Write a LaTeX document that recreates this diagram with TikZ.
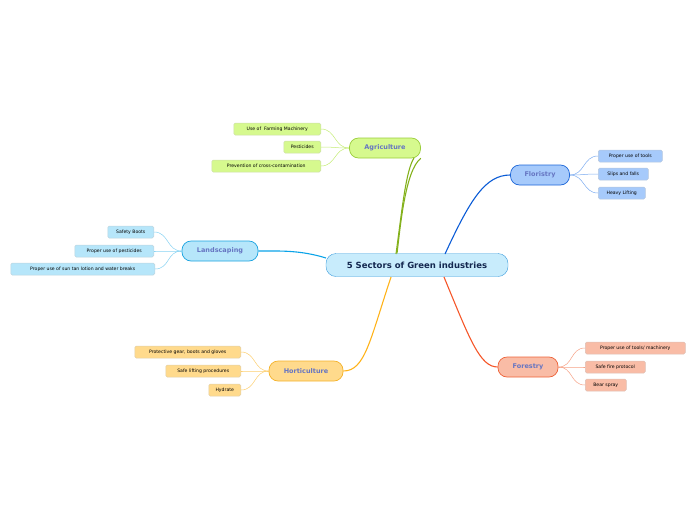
\documentclass[tikz,border=0pt]{standalone}
\usepackage{fontspec}
\setmainfont{DejaVu Sans}
\begin{document}
\begin{tikzpicture}[x=1pt,y=-1pt,
 leaf/.style={draw=#1!80!black!60, fill=#1, rounded corners=1.5pt, font=\fontsize{4.6}{5}\selectfont, inner xsep=3pt, minimum height=12pt, line width=0.5pt},
 main/.style={draw=#1, rounded corners=9pt, font=\fontsize{6.5}{7}\bfseries\selectfont, text=black!75!green!40!blue!60, minimum height=20pt, line width=0.7pt},
 br/.style={draw=#1, line width=1.1pt},
 tw/.style={draw=#1, line width=0.5pt}]
\useasboundingbox (0,0) rectangle (696,520);
\definecolor{agF}{HTML}{D6F98E}\definecolor{agB}{HTML}{9ACD3A}\definecolor{agL}{HTML}{84B11C}
\definecolor{flF}{HTML}{A6CAFB}\definecolor{flB}{HTML}{1C66D8}\definecolor{flL}{HTML}{0B5CD6}
\definecolor{laF}{HTML}{B6E6FA}\definecolor{laB}{HTML}{1AA3E0}\definecolor{laL}{HTML}{0AA3E8}
\definecolor{hoF}{HTML}{FFDA8C}\definecolor{hoB}{HTML}{F4B22A}\definecolor{hoL}{HTML}{FFB31A}
\definecolor{foF}{HTML}{F9BCA6}\definecolor{foB}{HTML}{EE6238}\definecolor{foL}{HTML}{F5572A}
\definecolor{ceF}{HTML}{C8ECFC}\definecolor{ceB}{HTML}{3C9CDC}
\node[draw=ceB, fill=ceF, rounded corners=10pt, minimum width=182pt, minimum height=23pt, font=\fontsize{8.5}{9}\bfseries\selectfont, text={rgb,255:red,20;green,40;blue,80}] (c) at (417,265) {5 Sectors of Green industries};
\node[main=agB, fill=agF, minimum width=71pt] (ag) at (385,148) {Agriculture};
\node[main=flB, fill=flF, minimum width=59pt] (fl) at (540,175) {Floristry};
\node[main=laB, fill=laF, minimum width=76pt] (la) at (220,251) {Landscaping};
\node[main=hoB, fill=hoF, minimum width=74pt] (ho) at (306,371) {Horticulture};
\node[main=foB, fill=foF, minimum width=60pt] (fo) at (528,367) {Forestry};
% branches
\draw[br=agL] (c.north)+(-20,0) coordinate (c1) (c1) .. controls (400,230) and (405,170) .. (ag.south east)+(-8,0);
\draw[br=agL] (396,254) .. controls (402,210) and (406,170) .. (414,158);
\draw[br=flL] (445,254) .. controls (470,200) and (485,175) .. (fl.west);
\draw[br=laL] (326,258) .. controls (300,250) and (280,251) .. (la.east);
\draw[br=hoL] (391,277) .. controls (370,340) and (365,371) .. (ho.east);
\draw[br=foL] (444,277) .. controls (470,340) and (480,367) .. (fo.west);
% leaves
\node[leaf=agF, anchor=east, minimum width=87pt] (a1) at (321,129) {Use of \ Farming Machinery};
\node[leaf=agF, anchor=east, minimum width=37pt] (a2) at (321,147) {Pesticides};
\node[leaf=agF, anchor=east, minimum width=109pt] (a3) at (321,166) {Prevention of cross-contamination};
\node[leaf=flF, anchor=west, minimum width=64pt] (f1) at (598,156) {Proper use of tools};
\node[leaf=flF, anchor=west, minimum width=50pt] (f2) at (598,174) {Slips and falls};
\node[leaf=flF, anchor=west, minimum width=47pt] (f3) at (598,193) {Heavy Lifting};
\node[leaf=laF, anchor=east, minimum width=46pt] (l1) at (154,232) {Safety Boots};
\node[leaf=laF, anchor=east, minimum width=79pt] (l2) at (154,251) {Proper use of pesticides};
\node[leaf=laF, anchor=east, minimum width=144pt] (l3) at (155,269) {Proper use of sun tan lotion and water breaks};
\node[leaf=hoF, anchor=east, minimum width=106pt] (h1) at (241,352) {Protective gear, boots and gloves};
\node[leaf=hoF, anchor=east, minimum width=75pt] (h2) at (241,371) {Safe lifting procedures};
\node[leaf=hoF, anchor=east, minimum width=32pt] (h3) at (241,390) {Hydrate};
\node[leaf=foF, anchor=west, minimum width=100pt] (o1) at (585,348) {Proper use of tools/ machinery};
\node[leaf=foF, anchor=west, minimum width=60pt] (o2) at (585,367) {Safe fire protocol};
\node[leaf=foF, anchor=west, minimum width=41pt] (o3) at (585,385) {Bear spray};
\foreach \l in {a1,a2,a3}{\draw[tw=agF!70!agB] (ag.west) .. controls +(-15,0) and +(15,0) .. (\l.east);}
\foreach \l in {f1,f2,f3}{\draw[tw=flF!70!flB] (fl.east) .. controls +(15,0) and +(-15,0) .. (\l.west);}
\foreach \l in {l1,l2,l3}{\draw[tw=laF!70!laB] (la.west) .. controls +(-15,0) and +(15,0) .. (\l.east);}
\foreach \l in {h1,h2,h3}{\draw[tw=hoF!70!hoB] (ho.west) .. controls +(-15,0) and +(15,0) .. (\l.east);}
\foreach \l in {o1,o2,o3}{\draw[tw=foF!70!foB] (fo.east) .. controls +(15,0) and +(-15,0) .. (\l.west);}
\end{tikzpicture}
\end{document}
